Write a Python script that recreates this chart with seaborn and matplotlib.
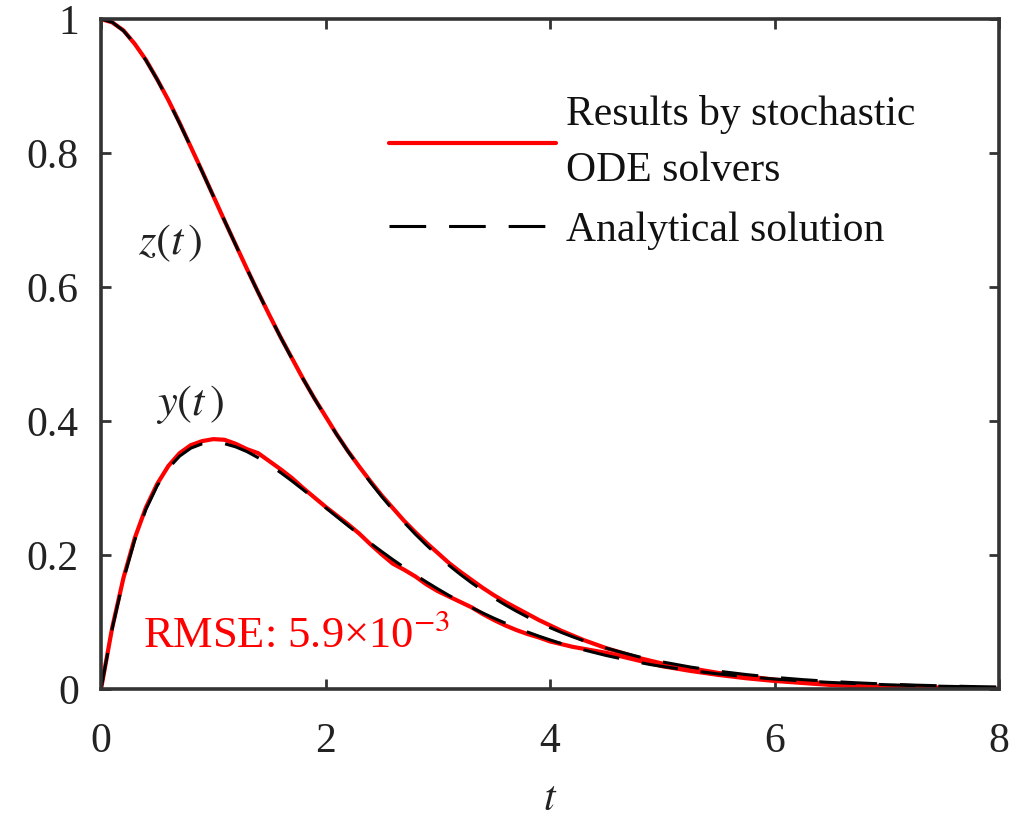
import numpy as np
import pandas as pd
import matplotlib
matplotlib.use("Agg")
import matplotlib.pyplot as plt
import seaborn as sns

# time grid
t = [0.0, 0.1, 0.2, 0.3, 0.4, 0.5, 0.6, 0.7, 0.8, 0.9,
     1.0, 1.1, 1.2, 1.3, 1.4, 1.5, 1.6, 1.7, 1.8, 1.9,
     2.0, 2.1, 2.2, 2.3, 2.4, 2.5, 2.6, 2.7, 2.8, 2.9,
     3.0, 3.1, 3.2, 3.3, 3.4, 3.5, 3.6, 3.7, 3.8, 3.9,
     4.0, 4.1, 4.2, 4.3, 4.4, 4.5, 4.6, 4.7, 4.8, 4.9,
     5.0, 5.25, 5.5, 5.75, 6.0, 6.25, 6.5, 6.75, 7.0, 7.25, 7.5, 7.75, 8.0]

# analytical solution
y_exact = [0.0, 0.0905, 0.1637, 0.2222, 0.2681, 0.3033, 0.3293, 0.3476, 0.3595, 0.3659,
           0.3679, 0.3662, 0.3614, 0.3543, 0.3452, 0.3347, 0.3230, 0.3106, 0.2975, 0.2842,
           0.2707, 0.2572, 0.2438, 0.2306, 0.2177, 0.2052, 0.1931, 0.1815, 0.1703, 0.1596,
           0.1494, 0.1396, 0.1304, 0.1217, 0.1135, 0.1057, 0.0984, 0.0915, 0.0850, 0.0789,
           0.0733, 0.0679, 0.0630, 0.0584, 0.0542, 0.0500, 0.0464, 0.0429, 0.0395, 0.0363,
           0.0337, 0.0276, 0.0225, 0.0183, 0.0149, 0.0121, 0.0098, 0.0079, 0.0064, 0.0051,
           0.0041, 0.0033, 0.0027]
z_exact = [1.0, 0.9953, 0.9825, 0.9630, 0.9384, 0.9098, 0.8781, 0.8442, 0.8088, 0.7725,
           0.7358, 0.6991, 0.6626, 0.6268, 0.5918, 0.5578, 0.5249, 0.4933, 0.4628, 0.4338,
           0.4060, 0.3797, 0.3546, 0.3309, 0.3084, 0.2873, 0.2674, 0.2487, 0.2311, 0.2146,
           0.1992, 0.1846, 0.1712, 0.1586, 0.1469, 0.1359, 0.1257, 0.1162, 0.1074, 0.0991,
           0.0916, 0.0845, 0.0780, 0.0720, 0.0665, 0.0611, 0.0565, 0.0520, 0.0477, 0.0437,
           0.0404, 0.0328, 0.0266, 0.0215, 0.0174, 0.0140, 0.0113, 0.0091, 0.0073, 0.0058,
           0.0047, 0.0037, 0.0030]

# stochastic ODE solver results
y_sto = [0.0, 0.092, 0.166, 0.225, 0.271, 0.306, 0.333, 0.352, 0.364, 0.370,
         0.373, 0.372, 0.366, 0.358, 0.352, 0.340, 0.328, 0.315, 0.300, 0.286,
         0.272, 0.259, 0.246, 0.232, 0.216, 0.201, 0.187, 0.178, 0.168, 0.156,
         0.146, 0.138, 0.130, 0.122, 0.112, 0.103, 0.095, 0.088, 0.082, 0.077,
         0.071, 0.067, 0.063, 0.060, 0.057, 0.054, 0.050, 0.046, 0.042, 0.038,
         0.034, 0.027, 0.021, 0.016, 0.012, 0.009, 0.006, 0.004, 0.003, 0.002,
         0.001, 0.001, 0.000]
z_sto = [1.0, 0.995, 0.983, 0.963, 0.939, 0.910, 0.879, 0.845, 0.809, 0.773,
         0.736, 0.699, 0.663, 0.627, 0.592, 0.558, 0.525, 0.494, 0.463, 0.434,
         0.407, 0.380, 0.355, 0.332, 0.310, 0.289, 0.270, 0.251, 0.234, 0.218,
         0.203, 0.188, 0.175, 0.163, 0.151, 0.140, 0.130, 0.121, 0.112, 0.103,
         0.095, 0.087, 0.080, 0.073, 0.067, 0.061, 0.056, 0.051, 0.046, 0.042,
         0.038, 0.031, 0.024, 0.019, 0.014, 0.011, 0.008, 0.006, 0.004, 0.003,
         0.002, 0.001, 0.000]

x_ticks = [0, 2, 4, 6, 8]
y_ticks = [0, 0.2, 0.4, 0.6, 0.8, 1.0]
y_tick_labels = ["0", "0.2", "0.4", "0.6", "0.8", "1"]
legend_labels = ["Results by stochastic\nODE solvers", "Analytical solution"]

sns.set_theme(style="ticks")
plt.rcParams["font.family"] = ["Liberation Serif", "DejaVu Serif"]
plt.rcParams["mathtext.fontset"] = "stix"

fig = plt.figure(figsize=(10.31, 8.18), dpi=100)
ax = fig.add_axes([0.098, 0.1577, 0.871, 0.819])

red = "#ff0000"
sns.lineplot(x=t, y=y_sto, ax=ax, color=red, lw=3.0, label=legend_labels[0])
sns.lineplot(x=t, y=z_sto, ax=ax, color=red, lw=3.0, label="_nolegend_")
dash = (0, (12.0, 7.5))
sns.lineplot(x=t, y=y_exact, ax=ax, color="black", lw=2.2, linestyle=dash, label=legend_labels[1])
sns.lineplot(x=t, y=z_exact, ax=ax, color="black", lw=2.2, linestyle=dash, label="_nolegend_")

ax.set_xlim(0, 8)
ax.set_ylim(0, 1)
ax.set_xticks(x_ticks)
ax.set_xticklabels([str(v) for v in x_ticks])
ax.set_yticks(y_ticks)
ax.set_yticklabels(y_tick_labels)
ax.tick_params(direction="in", length=7, width=2, labelsize=30,
               top=True, right=True, colors="#333333", labelcolor="#222222")
ax.tick_params(axis="x", pad=24)
ax.tick_params(axis="y", pad=16)
for s in ax.spines.values():
    s.set_linewidth(2.6)
    s.set_color("#333333")

ax.set_xlabel("$t$", fontsize=30, labelpad=14, color="#222222")
ax.set_ylabel("")

ax.text(0.62, 0.665, r"$z(t\,)$", fontsize=32, ha="center", va="center", color="#222222")
ax.text(0.79, 0.424, r"$y(t\,)$", fontsize=32, ha="center", va="center", color="#222222")
ax.text(0.375, 0.08, "RMSE: 5.9×10$^{-3}$", fontsize=32, color=red, ha="left", va="center")

handles = [ax.lines[0], ax.lines[2]]
leg = ax.legend(handles=handles, labels=legend_labels,
                loc="upper left", bbox_to_anchor=(0.302, 0.912), frameon=False,
                fontsize=30, handlelength=4.0, handletextpad=0.26, labelspacing=0.5,
                borderaxespad=0)
for txt in leg.get_texts():
    txt.set_linespacing(1.62)
    txt.set_color("#111111")

fig.savefig("out.png", dpi=100)
